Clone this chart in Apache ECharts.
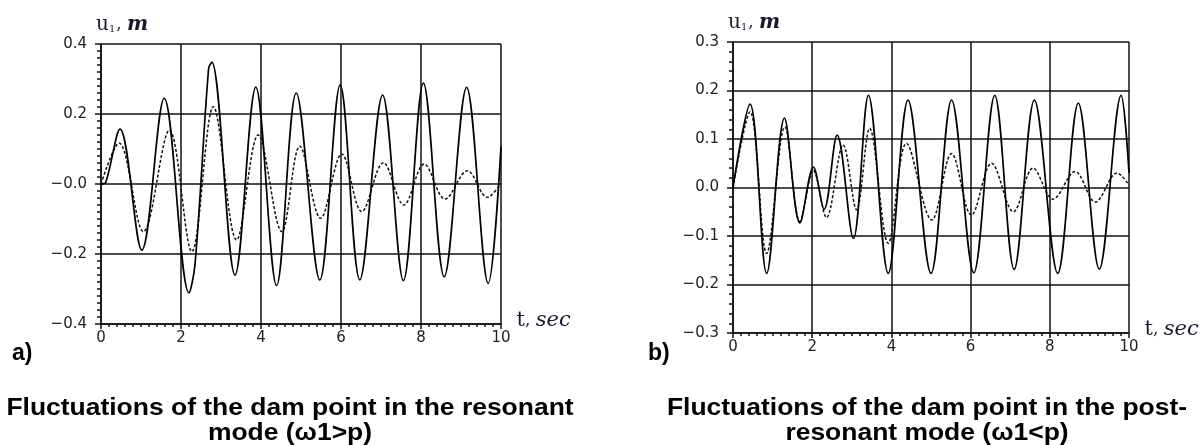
<!DOCTYPE html>
<html>
<head>
<meta charset="utf-8">
<script src="https://cdn.jsdelivr.net/npm/echarts@6/dist/echarts.min.js"></script>
<style>
  html, body { margin: 0; padding: 0; background: #fff; }
  #chart { width: 1203px; height: 445px; }
</style>
</head>
<body>
<div id="chart"></div>
<script>
// a) resonant mode
const tSolidA = [0, 0.12, 0.475, 1.02, 1.58, 2.2, 2.35, 2.69, 2.77, 3.35, 3.87, 4.39, 4.88, 5.47, 5.98, 6.47, 7.04, 7.56, 8.06, 8.58, 9.14, 9.68, 10];
const uSolidA = [0, 0.005, 0.157, -0.189, 0.245, -0.311, -0.23, 0.33, 0.348, -0.26, 0.277, -0.29, 0.26, -0.274, 0.283, -0.274, 0.254, -0.276, 0.288, -0.265, 0.276, -0.284, 0.107];
const tDashA = [0, 0.45, 1.06, 1.71, 2.27, 2.81, 3.39, 3.93, 4.52, 4.97, 5.49, 6.02, 6.52, 7.06, 7.57, 8.08, 8.6, 9.16, 9.66, 10];
const uDashA = [0, 0.117, -0.136, 0.154, -0.193, 0.221, -0.16, 0.14, -0.136, 0.108, -0.098, 0.086, -0.079, 0.061, -0.06, 0.057, -0.043, 0.038, -0.038, 0.002];

// b) post-resonant mode
const tSolidB = [0, 0.43, 0.85, 1.3, 1.69, 2.03, 2.3, 2.63, 3.04, 3.42, 3.92, 4.42, 5.0, 5.52, 6.08, 6.61, 7.1, 7.61, 8.2, 8.72, 9.25, 9.8, 10];
const uSolidB = [0, 0.172, -0.177, 0.143, -0.073, 0.042, -0.045, 0.108, -0.105, 0.19, -0.177, 0.18, -0.177, 0.18, -0.176, 0.19, -0.169, 0.18, -0.177, 0.174, -0.168, 0.19, 0.03];
const tDashB = [0, 0.43, 0.85, 1.31, 1.69, 2.03, 2.36, 2.78, 3.12, 3.45, 3.92, 4.38, 5.02, 5.52, 6.02, 6.53, 7.08, 7.58, 8.08, 8.64, 9.15, 9.7, 10];
const uDashB = [0, 0.156, -0.136, 0.125, -0.07, 0.035, -0.062, 0.088, -0.046, 0.122, -0.115, 0.091, -0.067, 0.07, -0.057, 0.05, -0.05, 0.04, -0.024, 0.033, -0.03, 0.03, 0.005];

const xTicks = [0, 2, 4, 6, 8, 10];

const pairs = (ts, us) => ts.map((t, i) => [t, us[i]]);

const fmtY = (zeroText) => (v) => {
    if (Math.abs(v) < 1e-9) return zeroText;
    const s = Math.abs(v).toFixed(1);
    return v < 0 ? '\u2212' + s : s;
};

const ink = '#1a1a2e';
const nameRich = {
    u: { fontFamily: 'DejaVu Serif', fontSize: 20, color: ink },
    sub: { fontFamily: 'DejaVu Serif', fontSize: 10, color: ink, padding: [9, 1, 0, 0] },
    c: { fontFamily: 'DejaVu Serif', fontSize: 17, color: ink },
    m: { fontFamily: 'DejaVu Serif', fontSize: 20, fontStyle: 'italic', fontWeight: 'bold', color: ink },
    t: { fontFamily: 'DejaVu Serif', fontSize: 21, color: ink },
    s: { fontFamily: 'DejaVu Serif', fontSize: 21, fontStyle: 'italic', color: ink }
};

const xAxisOpt = (gridIndex) => ({
    gridIndex: gridIndex,
    type: 'value',
    min: 0, max: 10, interval: 2,
    name: '{t|t}{c|, }{s|sec}',
    nameLocation: 'end',
    nameGap: -7,
    nameTextStyle: { rich: nameRich, align: 'left', verticalAlign: 'middle', padding: [0, 0, 6, 0] },
    axisLine: { onZero: false, lineStyle: { color: '#111', width: 1.5 } },
    axisTick: { show: true, inside: false, length: 5, lineStyle: { color: '#111', width: 1.5 } },
    minorTick: { show: true, splitNumber: 10, length: 3, lineStyle: { color: '#111', width: 1.5 } },
    axisLabel: {
        color: '#222', fontFamily: 'DejaVu Sans', fontSize: 15, margin: 7,
        customValues: xTicks
    },
    splitLine: { show: true, lineStyle: { color: '#111', width: 1.5 } }
});

const yAxisOpt = (gridIndex, lim, step, minorSplit, zeroText) => ({
    gridIndex: gridIndex,
    type: 'value',
    min: -lim, max: lim, interval: step,
    name: '{u|u}{sub|1}{c|, }{m|m}',
    nameLocation: 'end',
    nameGap: 9,
    nameTextStyle: { rich: nameRich, align: 'left', padding: [0, 0, 0, -5] },
    axisLine: { onZero: false, lineStyle: { color: '#111', width: 1.5 } },
    axisTick: { show: true, inside: false, length: 6, lineStyle: { color: '#111', width: 1.5 } },
    minorTick: { show: true, splitNumber: minorSplit, length: 4, lineStyle: { color: '#111', width: 1.5 } },
    axisLabel: {
        color: '#222', fontFamily: 'DejaVu Sans', fontSize: 15, margin: 14,
        formatter: fmtY(zeroText)
    },
    splitLine: { show: true, lineStyle: { color: '#111', width: 1.5 } }
});

const solid = (xi, data) => ({
    type: 'line', xAxisIndex: xi, yAxisIndex: xi, data: data,
    showSymbol: false, smooth: 0.35,
    lineStyle: { color: '#000', width: 1.7 },
    z: 3
});
const dashed = (xi, data) => ({
    type: 'line', xAxisIndex: xi, yAxisIndex: xi, data: data,
    showSymbol: false, smooth: 0.35,
    lineStyle: { color: '#111', width: 1.5, type: [3, 2] },
    z: 2
});

const capFont = 'bold 23px "Liberation Sans"';

const chart = echarts.init(document.getElementById('chart'), null, { renderer: 'canvas' });
chart.setOption({
    backgroundColor: '#fff',
    animation: false,
    grid: [
        { left: 101, top: 44, width: 400, height: 280 },
        { left: 733, top: 42, width: 396, height: 291 }
    ],
    xAxis: [xAxisOpt(0), xAxisOpt(1)],
    yAxis: [yAxisOpt(0, 0.4, 0.2, 10, '\u22120.0'), yAxisOpt(1, 0.3, 0.1, 5, '0.0')],
    series: [
        solid(0, pairs(tSolidA, uSolidA)),
        dashed(0, pairs(tDashA, uDashA)),
        solid(1, pairs(tSolidB, uSolidB)),
        dashed(1, pairs(tDashB, uDashB))
    ],
    graphic: [
        { type: 'text', left: 12, top: 342, style: { text: 'a)', font: 'bold 23px "Liberation Sans"', fill: '#000' } },
        { type: 'text', left: 648, top: 342, style: { text: 'b)', font: 'bold 23px "Liberation Sans"', fill: '#000' } },
        { type: 'text', x: 290, y: 396, scaleX: 1.15, style: { text: 'Fluctuations of the dam point in the resonant\nmode (\u03c91>p)', font: capFont, fill: '#000', align: 'center', lineHeight: 25 } },
        { type: 'text', x: 927, y: 396, scaleX: 1.15, style: { text: 'Fluctuations of the dam point in the post-\nresonant mode (\u03c91<p)', font: capFont, fill: '#000', align: 'center', lineHeight: 25 } }
    ]
});
</script>
</body>
</html>
